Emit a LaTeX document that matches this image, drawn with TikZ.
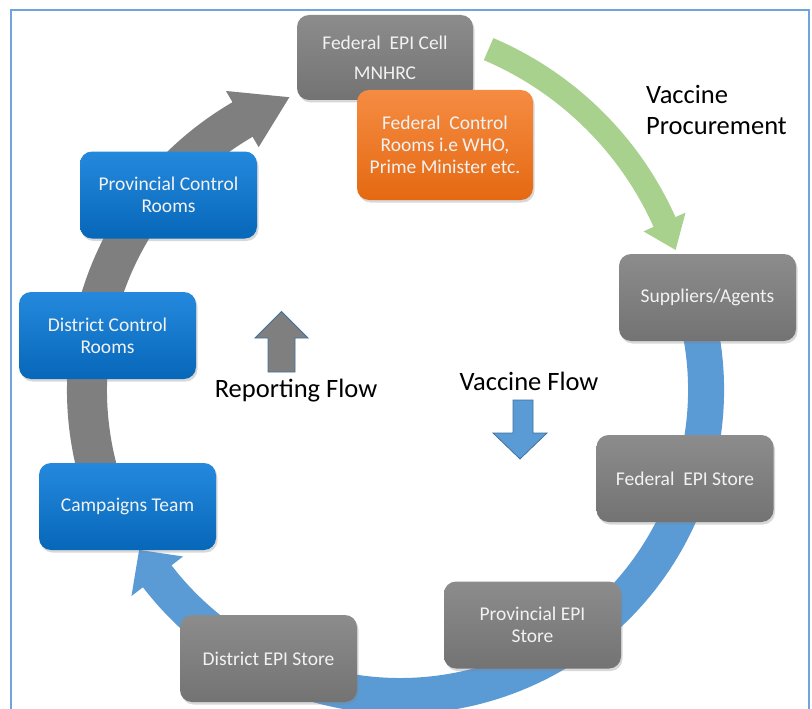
\documentclass[tikz,border=0pt]{standalone}
\usepackage{fontspec}
\setmainfont{Carlito}
\usetikzlibrary{shadows}
\definecolor{framecol}{HTML}{6FA5DA}
\definecolor{greenband}{HTML}{A9D18E}
\definecolor{blueband}{HTML}{5B9BD5}
\definecolor{grayband}{HTML}{7F7F7F}
\definecolor{gtop}{HTML}{8C8C8C}
\definecolor{gbot}{HTML}{737373}
\definecolor{btop}{HTML}{2489DD}
\definecolor{bbot}{HTML}{0767B9}
\definecolor{otop}{HTML}{F58C42}
\definecolor{obot}{HTML}{E56912}
\definecolor{boxtext}{HTML}{F2F2F2}
\definecolor{outl}{HTML}{41719C}
\tikzset{
  box/.style={rounded corners=12pt, minimum width=177pt, minimum height=87pt,
    align=center, text=boxtext, inner sep=2pt,
    font=\fontsize{19.5}{22}\selectfont,
    drop shadow={opacity=0.3, shadow xshift=1.5pt, shadow yshift=-2.5pt}},
  graybox/.style={box, top color=gtop, bottom color=gbot},
  bluebox/.style={box, top color=btop, bottom color=bbot},
  orangebox/.style={box, top color=otop, bottom color=obot},
  biglabel/.style={font=\fontsize{26.5}{32}\selectfont, text=black, inner sep=0pt},
  blockarrow/.style={draw=outl, line width=0.8pt, line join=miter}
}
\begin{document}
\begin{tikzpicture}[x=1pt,y=-1pt]
\useasboundingbox (0,0) rectangle (812,709);
\clip (0,0) rectangle (812,709);
\fill[white] (0,0) rectangle (812,709);
\draw[framecol, line width=1.6pt] (11,10) rectangle (809,740);

% green procurement arrow
\begin{scope}[shift={(356,360)}]
  \draw[line width=24pt, greenband] (-66.9:338) arc[start angle=-66.9, end angle=-23.6, radius=338];
  \fill[greenband] (-24.1:315) -- (-24.1:361) -- (-19:338) -- cycle;
\end{scope}

% blue vaccine flow arrow
\begin{scope}[shift={(400,390)}]
  \draw[line width=36pt, blueband] (-22:306) arc[start angle=-22, end angle=143, radius=306];
  \fill[blueband] (142.5:273.5) -- (142.5:338.5) -- (148.5:306) -- cycle;
\end{scope}

% gray reporting flow arrow
\begin{scope}[shift={(400,390)}]
  \draw[line width=40pt, grayband] (162:313) arc[start angle=162, end angle=240.3, radius=313];
  \fill[grayband] (239.8:281) -- (239.8:346) -- (249.3:313) -- cycle;
\end{scope}

% boxes
\node[graybox, minimum width=176pt, minimum height=85pt] (fec) at (385,57.5) {Federal\ \ EPI Cell\\[8pt]MNHRC};
\node[orangebox, minimum width=176pt, minimum height=110pt] (fcr) at (445,145) {Federal\ \ Control\\Rooms i.e WHO,\\Prime Minister etc.};
\node[bluebox] (pcr) at (168.5,195) {Provincial Control\\Rooms};
\node[bluebox] (dcr) at (107.5,335.5) {District Control\\Rooms};
\node[bluebox] (ct) at (127.5,506.5) {Campaigns Team};
\node[graybox] (des) at (268.5,658.5) {District EPI Store};
\node[graybox] (pes) at (532.5,625) {Provincial EPI\\Store};
\node[graybox] (fes) at (685,478.5) {Federal\ \ EPI Store};
\node[graybox] (sup) at (707.5,297.5) {Suppliers/Agents};

% small block arrows
\filldraw[blockarrow, fill=grayband] (268,372) -- (268,338) -- (255,338) -- (281.5,311.5) -- (308,338) -- (295,338) -- (295,372) -- cycle;
\filldraw[blockarrow, fill=blueband] (513,400) -- (533,400) -- (533,433) -- (547,433) -- (520,459) -- (493,433) -- (513,433) -- cycle;

% labels
\node[biglabel, anchor=base west] (vp1) at (646,103) {Vaccine};
\node[biglabel, anchor=base west] (vp2) at (646,135) {Procurement};
\node[biglabel, anchor=base] (rf) at (296,397) {Reporting Flow};
\node[biglabel, anchor=base] (vf) at (529,390) {Vaccine Flow};
\end{tikzpicture}
\end{document}
